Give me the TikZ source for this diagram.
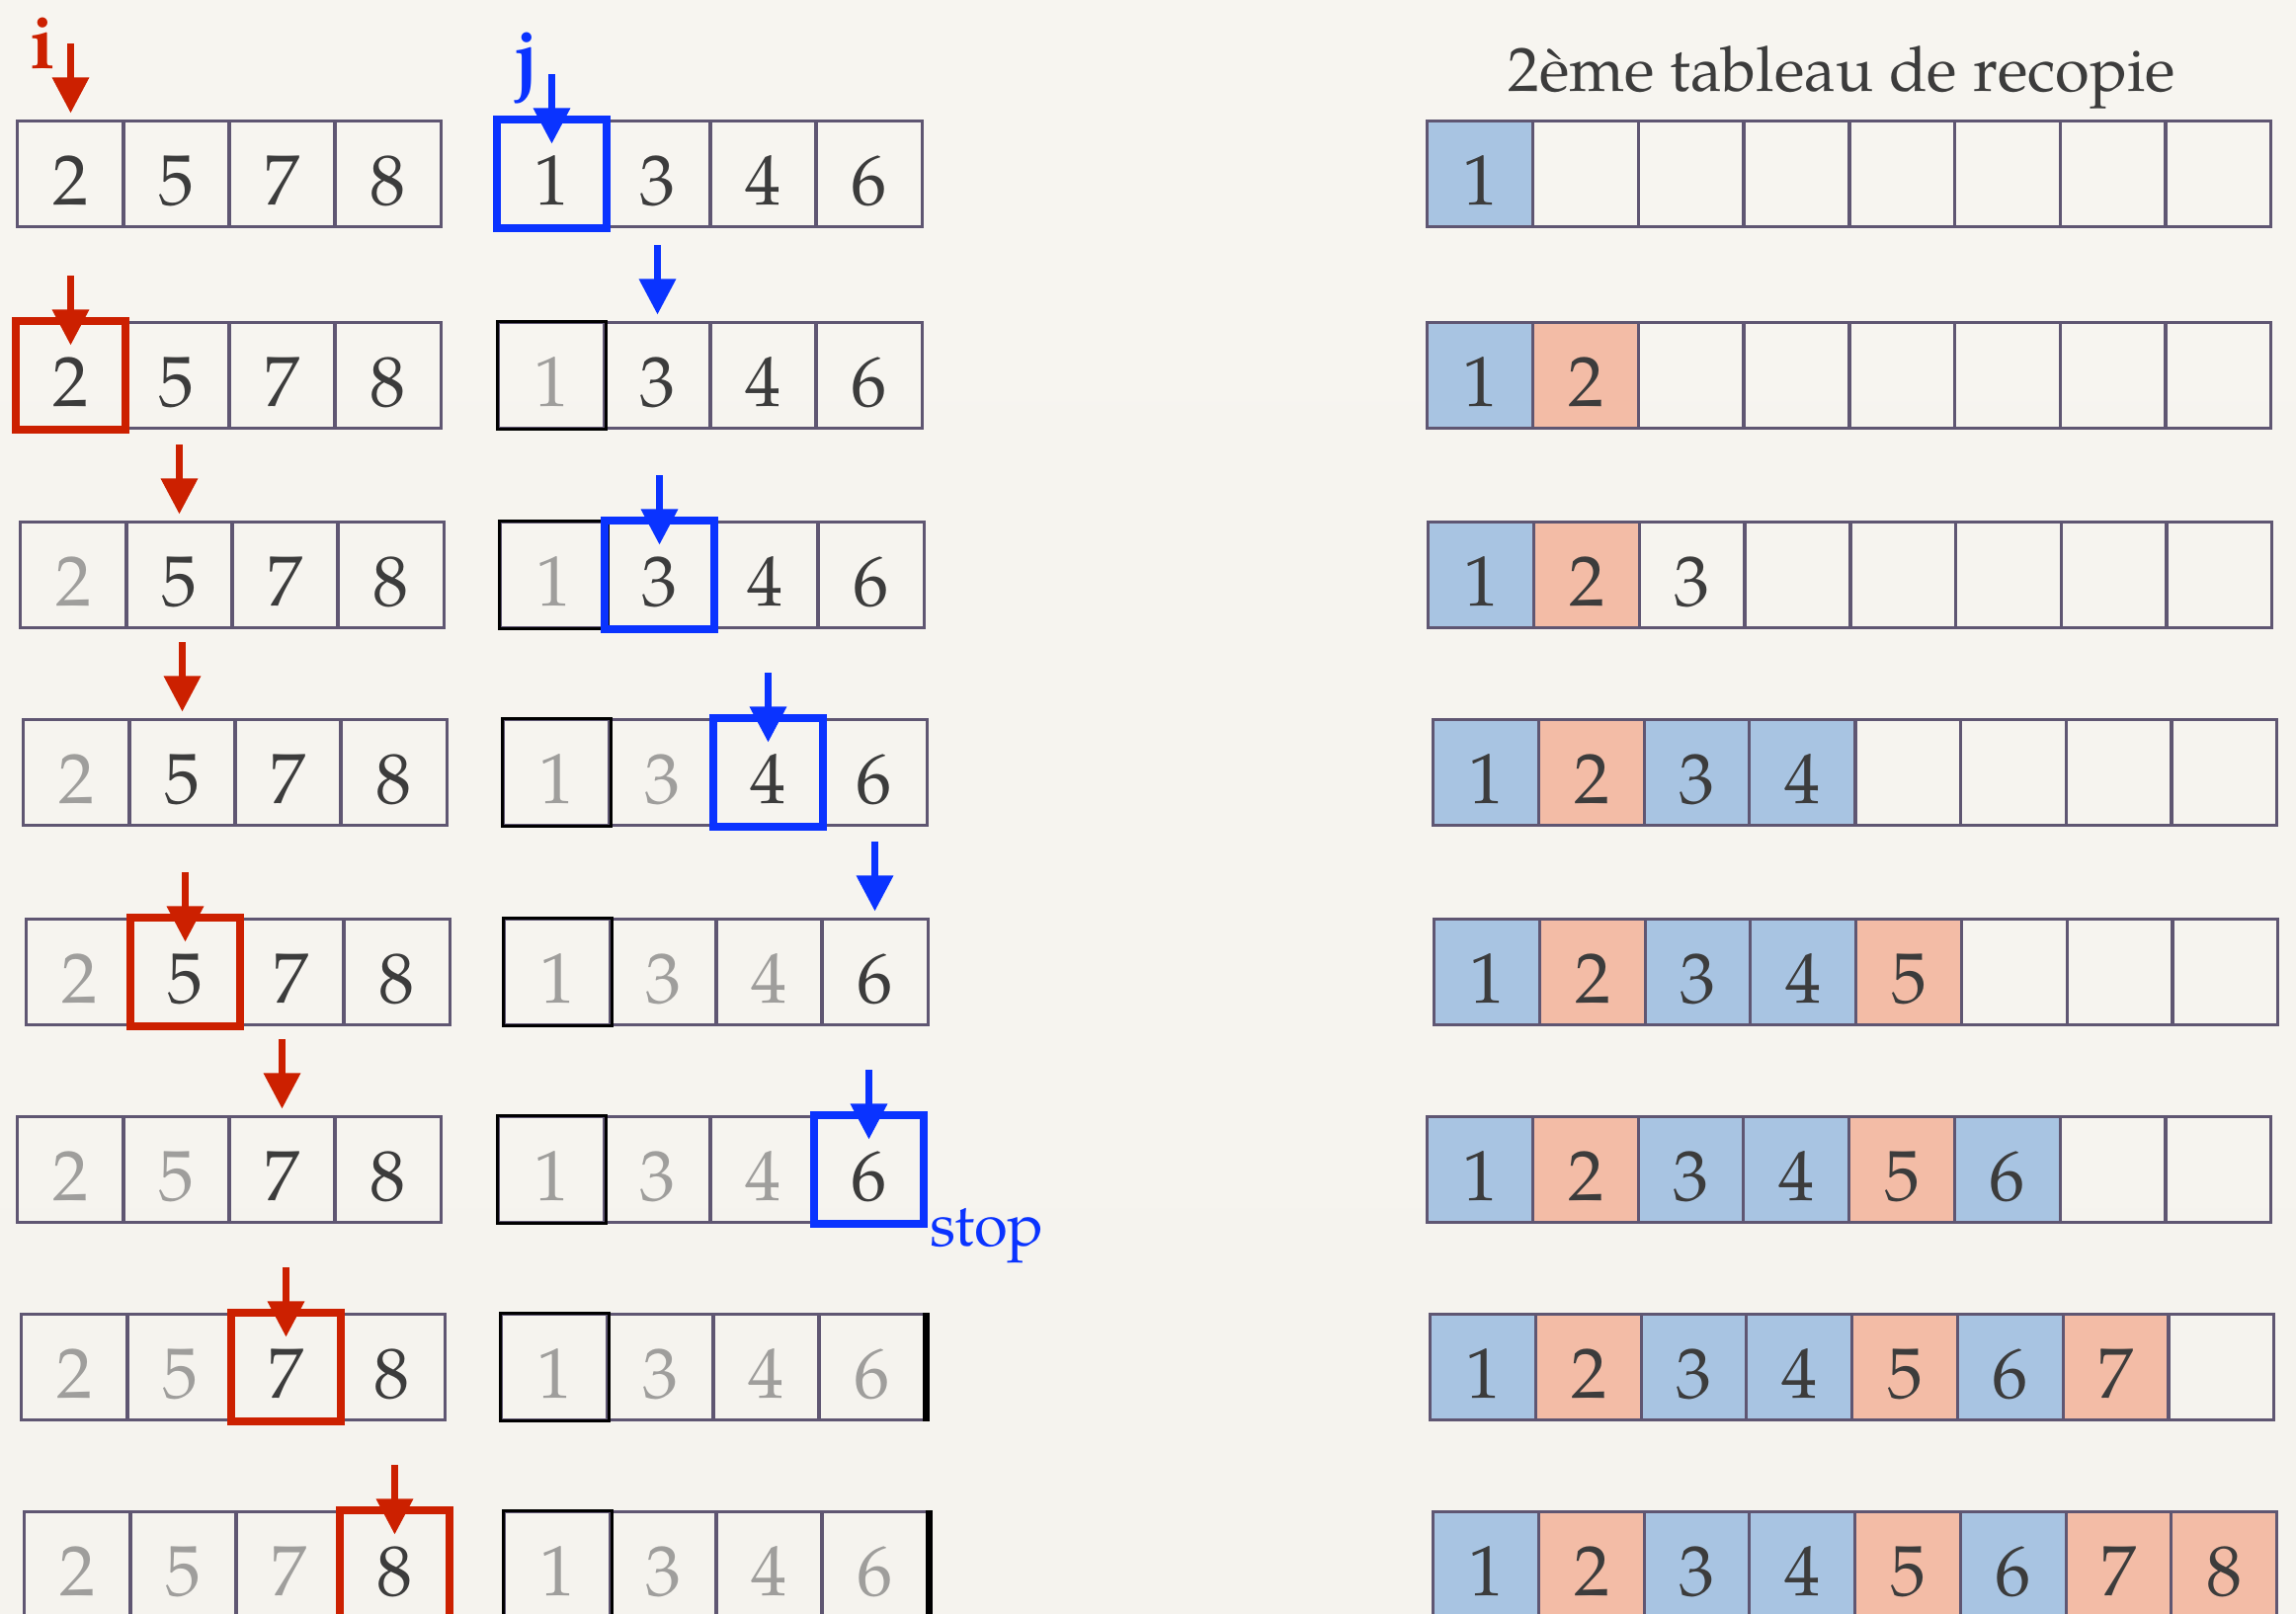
\documentclass[tikz,border=0pt]{standalone}
\usepackage{fontspec}
\setmainfont{TeX Gyre Pagella}
\usetikzlibrary{arrows.meta}
\definecolor{paper}{HTML}{F7F5F0}
\definecolor{papermid}{HTML}{E3E0DB}
\definecolor{paperlow}{HTML}{F5F3EE}
\definecolor{grid}{HTML}{5F5672}
\definecolor{ink}{HTML}{3C3C3C}
\definecolor{faded}{HTML}{9F9E9C}
\definecolor{ired}{HTML}{CC2000}
\definecolor{jblue}{HTML}{0A33FF}
\definecolor{fillA}{HTML}{F3BCA6}
\definecolor{fillB}{HTML}{A8C4E2}
\tikzset{
  cell/.style={draw=grid,line width=0.85pt,minimum width=1.07cm,minimum height=1.06cm,inner sep=0pt,
    text height=0.62cm,text depth=0pt,font=\fontsize{20.5}{20.5}\selectfont,text=ink},
  old/.style={text=faded},
  froma/.style={fill=fillA},
  fromb/.style={fill=fillB},
  redbox/.style={draw=ired,line width=0.08cm},
  bluebox/.style={draw=jblue,line width=0.08cm},
  iptr/.style={-{Triangle[width=0.36cm,length=0.36cm]},line width=0.065cm,draw=ired},
  jptr/.style={-{Triangle[width=0.36cm,length=0.36cm]},line width=0.065cm,draw=jblue},
  done/.style={draw=black,line width=0.9pt},
}
\newcommand{\ptrin}[2]{\draw[#1] ([yshift=0.46cm]#2.north) -- ([yshift=-0.24cm]#2.north);}
\newcommand{\ptrabove}[2]{\draw[#1] ([yshift=0.77cm]#2.north) -- ([yshift=0.07cm]#2.north);}

\begin{document}
\begin{tikzpicture}[x=0.01cm,y=-0.01cm]
  \useasboundingbox (0,0) rectangle (2324,1633);
  \shade[top color=paper,middle color=papermid,bottom color=paperlow] (0,0) rectangle (2324,1633);
  % rows: top, left x of the three arrays, faded cells in the two halves
  \foreach \r/\ty/\lx/\mx/\rx/\gl/\gm in {1/123/18/505/1445/0/0, 2/327/18/505/1445/0/1,
      3/529/21/507/1446/1/1, 4/729/24/510/1451/1/2, 5/931/27/511/1452/1/3,
      6/1131/18/505/1445/2/3, 7/1331/22/508/1448/2/4, 8/1531/25/511/1451/3/4}{
    \foreach \v [count=\c] in {2,5,7,8}{
      \ifnum\c>\gl \def\st{}\else\def\st{old}\fi
      \node[cell,\st] (L\r-\c) at (\lx+\c*107-53.5,\ty+53) {\v};
    }
    \foreach \v [count=\c] in {1,3,4,6}{
      \ifnum\c>\gm \def\st{}\else\def\st{old}\fi
      \node[cell,\st] (M\r-\c) at (\mx+\c*107-53.5,\ty+53) {\v};
    }
    \foreach \c/\f in {1/fromb,2/froma,3/fromb,4/fromb,5/froma,6/fromb,7/froma,8/froma}{
      \ifnum\c>\r \def\st{}\def\tx{}\else\def\st{\f}\def\tx{\c}\fi
      \ifnum\r=3 \ifnum\c=3 \def\st{}\fi\fi
      \node[cell,\st] (R\r-\c) at (\rx+\c*106.7-53.35,\ty+53) {\tx};
    }
  }
  \foreach \r in {2,...,8}
    \draw[done] (M\r-1.north west) rectangle (M\r-1.south east);
  \foreach \r in {7,8}
    \draw[black,line width=0.07cm] (M\r-4.north east) -- (M\r-4.south east);
  % current elements
  \foreach \n in {L2-1,L5-2,L7-3,L8-4}
    \draw[redbox] (\n.north west) rectangle (\n.south east);
  \foreach \n in {M1-1,M3-2,M4-3,M6-4}
    \draw[bluebox] (\n.north west) rectangle (\n.south east);
  \foreach \n in {L2-1,L5-2,L7-3,L8-4} {\ptrin{iptr}{\n}}
  \foreach \n in {L1-1,L3-2,L4-2,L6-3} {\ptrabove{iptr}{\n}}
  \foreach \n in {M1-1,M3-2,M4-3,M6-4} {\ptrin{jptr}{\n}}
  \foreach \n in {M2-2,M5-4} {\ptrabove{jptr}{\n}}
  \node[font=\bfseries\fontsize{22}{22}\selectfont,text=ired,anchor=base] (ilabel) at (43,70) {i};
  \node[font=\bfseries\fontsize{22}{22}\selectfont,text=jblue,anchor=base] (jlabel) at (533,84) {j};
  \node[font=\fontsize{18}{18}\selectfont,text=ink,anchor=base] (title) at (1864,92) {2ème tableau de recopie};
  \node[font=\fontsize{17.5}{17.5}\selectfont,text=jblue,anchor=base west,inner sep=0pt] (stop) at (941,1261) {stop};
\end{tikzpicture}
\end{document}
